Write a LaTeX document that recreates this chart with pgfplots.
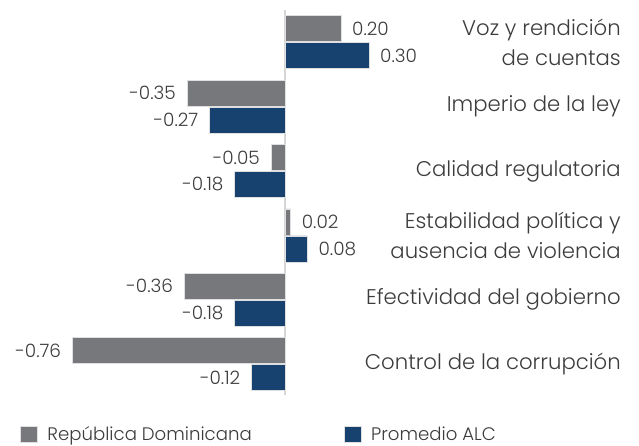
\documentclass[border=0pt]{standalone}
\usepackage{fontspec}
\setmainfont{Poppins}[UprightFont=* Light]
\usepackage{pgfplots}
\pgfplotsset{compat=1.18}

\definecolor{rdgray}{HTML}{76787B}
\definecolor{alcblue}{HTML}{17426F}
\definecolor{txt}{HTML}{3C3C3C}
\definecolor{zeroline}{HTML}{D6D6D6}

\begin{document}
\begin{tikzpicture}
\path[use as bounding box] (0,0) rectangle (639bp,446bp);
\begin{axis}[
    at={(0bp,51bp)}, anchor=south west,
    scale only axis, width=621bp, height=385bp,
    xbar, bar width=26bp,
    xmin=-1.018, xmax=1.200, ymin=-0.48, ymax=5.5,
    hide x axis,
    axis line style={draw=none},
    yticklabel pos=right,
    ytick={0,...,5}, major tick length=0pt,
    yticklabels={Control de la corrupción, Efectividad del gobierno,
        {Estabilidad política y\\ausencia de violencia}, Calidad regulatoria,
        Imperio de la ley, {Voz y rendición\\de cuentas}},
    yticklabel style={anchor=east, align=right, text=txt, inner sep=0pt,
        font=\fontsize{21.3}{30}\selectfont},
    nodes near coords,
    nodes near coords style={text=txt, inner xsep=11bp, inner ysep=0pt,
        font=\fontsize{18.5}{18.5}\selectfont,
        /pgf/number format/.cd, fixed, fixed zerofill, precision=2, assume math mode=true},
    legend columns=2,
    legend style={at={(axis description cs:0.032,-0.103)}, anchor=west, draw=none,
        inner sep=0pt, font=\fontsize{18.2}{18.2}\selectfont, text=txt,
        /tikz/every odd column/.append style={column sep=8bp},
        /tikz/every even column/.append style={column sep=90bp}},
    legend image code/.code={\fill[#1] (0bp,-8bp) rectangle (17bp,8bp);},
]
\draw[zeroline, line width=1.2bp] (axis cs:0,-0.48) -- (axis cs:0,5.5);
\addplot[fill=rdgray, draw=gray!25, line width=0.4bp, bar shift=13.5bp] coordinates {
    (-0.76,0) (-0.36,1) (0.02,2) (-0.05,3) (-0.35,4) (0.20,5)
};
\addplot[fill=alcblue, draw=gray!25, line width=0.4bp, bar shift=-13.5bp] coordinates {
    (-0.12,0) (-0.18,1) (0.08,2) (-0.18,3) (-0.27,4) (0.30,5)
};
\legend{República Dominicana, Promedio ALC}
\end{axis}
\end{tikzpicture}
\end{document}
